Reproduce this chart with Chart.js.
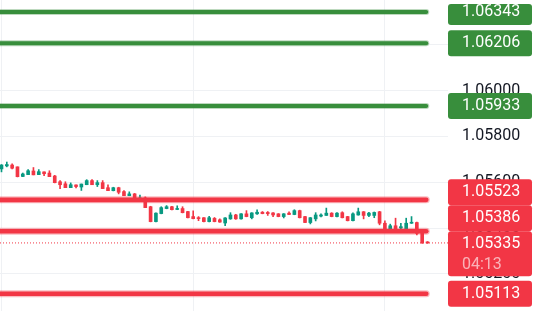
<!DOCTYPE html>
<html>
<head>
<meta charset="utf-8">
<script src="https://cdn.jsdelivr.net/npm/chart.js@4.4.1/dist/chart.umd.min.js"></script>
<style>
  html, body { margin: 0; padding: 0; background: #fff; }
  #wrap { width: 534px; height: 311px; }
</style>
</head>
<body>
<div id="wrap"><canvas id="chart"></canvas></div>
<script>
// candle values
const opens  = [1.05658,1.05671,1.05675,1.05667,1.05625,1.05633,1.05649,1.05633,1.05645,1.05640,
                1.05627,1.05602,1.05593,1.05576,1.05588,1.05579,1.05589,1.05607,1.05589,1.05598,
                1.05576,1.05563,1.05576,1.05559,1.05541,1.05549,1.05520,1.05531,1.05493,1.05428,
                1.05463,1.05485,1.05493,1.05481,1.05485,1.05472,1.05450,1.05445,1.05445,1.05428,
                1.05442,1.05436,1.05422,1.05440,1.05457,1.05440,1.05462,1.05445,1.05462,1.05469,
                1.05468,1.05466,1.05462,1.05450,1.05465,1.05459,1.05476,1.05450,1.05424,1.05440,
                1.05452,1.05455,1.05465,1.05450,1.05467,1.05450,1.05432,1.05457,1.05471,1.05455,
                1.05455,1.05471,1.05421,1.05392,1.05410,1.05400,1.05396,1.05421,1.05424,1.05377,
                1.05339];
const highs  = [1.05677,1.05688,1.05680,1.05667,1.05640,1.05655,1.05664,1.05655,1.05645,1.05650,
                1.05630,1.05607,1.05602,1.05597,1.05588,1.05592,1.05611,1.05611,1.05607,1.05607,
                1.05589,1.05578,1.05578,1.05563,1.05558,1.05551,1.05544,1.05536,1.05495,1.05466,
                1.05493,1.05498,1.05495,1.05497,1.05493,1.05473,1.05475,1.05450,1.05446,1.05451,
                1.05446,1.05440,1.05446,1.05467,1.05460,1.05463,1.05476,1.05467,1.05479,1.05472,
                1.05472,1.05467,1.05463,1.05463,1.05471,1.05480,1.05478,1.05451,1.05446,1.05467,
                1.05462,1.05487,1.05467,1.05467,1.05471,1.05451,1.05466,1.05487,1.05472,1.05468,
                1.05470,1.05473,1.05431,1.05417,1.05443,1.05421,1.05443,1.05450,1.05426,1.05387,
                1.05341];
const lows   = [1.05645,1.05667,1.05658,1.05623,1.05624,1.05633,1.05632,1.05633,1.05628,1.05624,
                1.05597,1.05572,1.05576,1.05576,1.05575,1.05564,1.05589,1.05589,1.05581,1.05572,
                1.05563,1.05562,1.05549,1.05541,1.05541,1.05526,1.05519,1.05489,1.05427,1.05427,
                1.05462,1.05484,1.05479,1.05480,1.05466,1.05444,1.05440,1.05432,1.05427,1.05427,
                1.05427,1.05425,1.05410,1.05438,1.05438,1.05439,1.05449,1.05440,1.05459,1.05462,
                1.05455,1.05450,1.05449,1.05444,1.05458,1.05458,1.05444,1.05423,1.05418,1.05431,
                1.05449,1.05455,1.05449,1.05449,1.05444,1.05431,1.05431,1.05456,1.05440,1.05450,
                1.05445,1.05414,1.05391,1.05391,1.05391,1.05392,1.05395,1.05420,1.05370,1.05333,
                1.05333];
const closes = [1.05675,1.05677,1.05661,1.05624,1.05636,1.05650,1.05632,1.05646,1.05637,1.05624,
                1.05598,1.05589,1.05576,1.05589,1.05581,1.05592,1.05607,1.05589,1.05598,1.05572,
                1.05563,1.05576,1.05556,1.05541,1.05549,1.05527,1.05531,1.05489,1.05428,1.05465,
                1.05489,1.05493,1.05480,1.05485,1.05467,1.05445,1.05441,1.05441,1.05428,1.05445,
                1.05428,1.05426,1.05444,1.05457,1.05440,1.05462,1.05450,1.05466,1.05469,1.05463,
                1.05463,1.05457,1.05450,1.05462,1.05459,1.05476,1.05445,1.05424,1.05445,1.05457,
                1.05457,1.05465,1.05450,1.05465,1.05445,1.05432,1.05462,1.05471,1.05455,1.05465,
                1.05468,1.05421,1.05392,1.05410,1.05392,1.05406,1.05421,1.05424,1.05377,1.05335,
                1.05335];

const greenLevels = [1.06343, 1.06206, 1.05933];
const redLevels = [1.05523, 1.05386, 1.05113];
const lastPrice = 1.05335;
const countdown = '04:13';
const priceTicks = [1.052, 1.054, 1.056, 1.058, 1.060, 1.062];
const timeTicks = [0, 36, 72];

const UP = '#089981', DOWN = '#f23645';
const GREEN = '#388e3c', RED = '#f23645';
const FONT = 'Roboto, "Noto Sans", sans-serif';
const xMin = -0.28, xMax = 83.85, lineEnd = 79.77;

const isUp = i => closes[i] >= opens[i];
const candleColors = opens.map((o, i) => isUp(i) ? UP : DOWN);

function levelSets(levels, color, halo, core) {
  const out = [];
  levels.forEach(v => {
    const data = [{x: xMin, y: v}, {x: lineEnd, y: v}];
    out.push({type: 'line', data, borderColor: color + '55', borderWidth: halo,
              borderCapStyle: 'round', pointRadius: 0, order: 1});
    out.push({type: 'line', data, borderColor: color, borderWidth: core,
              borderCapStyle: 'round', pointRadius: 0, order: 0});
  });
  return out;
}

// tags on the price scale, pushed apart when they overlap
const tagPlugin = {
  id: 'priceTags',
  afterDraw(chart) {
    const {ctx, chartArea, scales: {y}} = chart;
    const tags = [
      ...greenLevels.map(v => ({v, color: GREEN, h: 26})),
      ...redLevels.map(v => ({v, color: RED, h: 26})),
      {v: lastPrice, color: RED, h: 45, sub: countdown}
    ].sort((a, b) => b.v - a.v);
    tags.forEach(t => { t.line = y.getPixelForValue(t.v); t.nat = t.line - 13 + t.h / 2; });

    let groups = tags.map(t => ({items: [t]}));
    const place = g => {
      const total = g.items.reduce((s, t) => s + t.h, 0);
      const c = g.items.reduce((s, t) => s + t.nat, 0) / g.items.length;
      g.top = c - total / 2; g.bottom = g.top + total;
    };
    groups.forEach(place);
    let merged = true;
    while (merged) {
      merged = false;
      for (let i = 0; i < groups.length - 1; i++) {
        if (groups[i].bottom > groups[i + 1].top) {
          groups[i].items = groups[i].items.concat(groups[i + 1].items);
          groups.splice(i + 1, 1);
          place(groups[i]);
          merged = true;
          break;
        }
      }
    }

    const x0 = chartArea.right, w = 84;
    ctx.save();
    ctx.font = '16px ' + FONT;
    ctx.textBaseline = 'middle';
    ctx.textAlign = 'left';
    groups.forEach(g => {
      let top = g.top;
      g.items.forEach(t => {
        const drawTop = Math.max(top, 4);
        ctx.fillStyle = t.color;
        ctx.beginPath();
        ctx.roundRect(x0, drawTop, w, top + t.h - drawTop, 3);
        ctx.fill();
        ctx.fillStyle = '#ffffff';
        ctx.fillText(t.v.toFixed(5), x0 + 14, top + 13);
        if (t.sub) {
          ctx.fillStyle = 'rgba(255,255,255,0.62)';
          ctx.fillText(t.sub, x0 + 14, top + 34);
        }
        top += t.h;
      });
    });
    ctx.restore();
  }
};

new Chart(document.getElementById('chart'), {
  type: 'bar',
  data: {
    datasets: [
      {label: 'wicks', data: opens.map((o, i) => ({x: i, y: [lows[i], highs[i]]})),
       backgroundColor: candleColors, barThickness: 1, grouped: false, order: 4},
      {label: 'bodies', data: opens.map((o, i) => ({x: i, y: [Math.min(o, closes[i]), Math.max(o, closes[i])]})),
       backgroundColor: candleColors, barThickness: 3, minBarLength: 1, grouped: false, order: 3},
      {type: 'line', data: [{x: xMin, y: lastPrice}, {x: xMax, y: lastPrice}],
       borderColor: RED, borderWidth: 1, borderDash: [1, 2], pointRadius: 0, order: 2},
      ...levelSets(greenLevels, GREEN, 6, 4),
      ...levelSets(redLevels, RED, 7, 4.6)
    ]
  },
  options: {
    responsive: true,
    maintainAspectRatio: false,
    animation: false,
    events: [],
    layout: {padding: 0},
    plugins: {legend: {display: false}, tooltip: {enabled: false}},
    scales: {
      x: {
        type: 'linear', min: xMin, max: xMax, offset: false,
        afterBuildTicks: s => { s.ticks = timeTicks.map(v => ({value: v})); },
        afterFit: s => { s.height = 0; s.paddingLeft = 0; s.paddingRight = 0; },
        grid: {color: '#eff1f4', drawTicks: false, offset: false},
        border: {display: false},
        ticks: {display: false}
      },
      y: {
        position: 'right', min: 1.05038, max: 1.06395,
        afterBuildTicks: s => { s.ticks = priceTicks.map(v => ({value: v})); },
        afterFit: s => { s.width = 86; s.paddingTop = 0; s.paddingBottom = 0; },
        grid: {color: '#eff1f4', drawTicks: false},
        border: {display: false},
        ticks: {padding: 14, color: '#131722', font: {family: FONT, size: 16},
                callback: v => Number(v).toFixed(5)}
      }
    }
  },
  plugins: [tagPlugin]
});
</script>
</body>
</html>
